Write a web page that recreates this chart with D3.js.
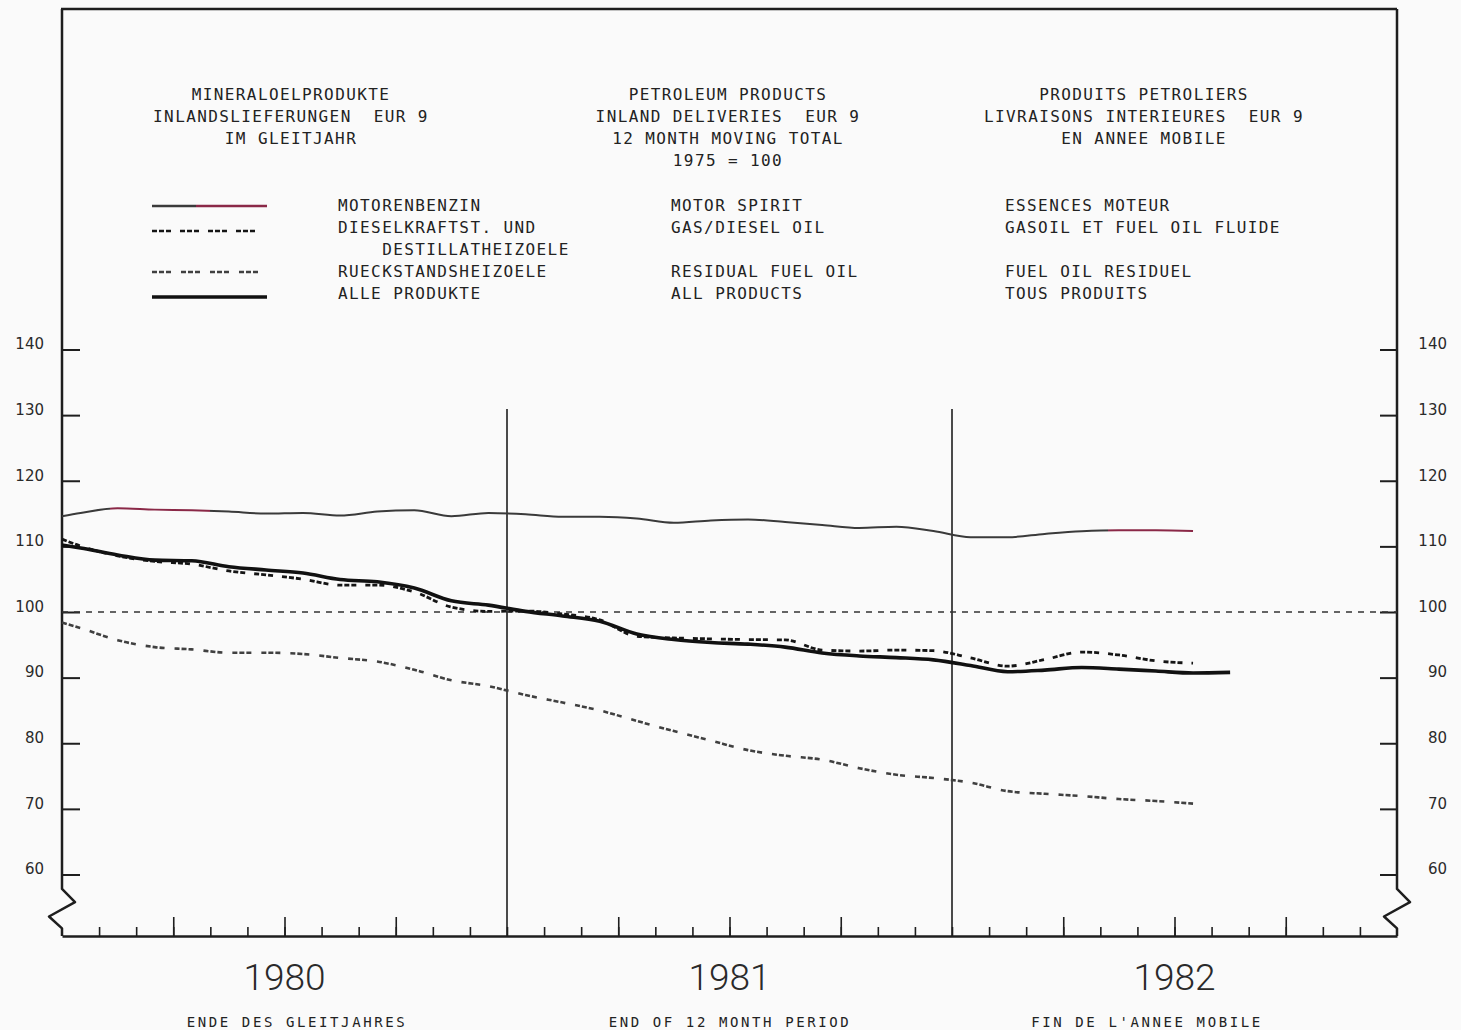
<!DOCTYPE html>
<html><head><meta charset="utf-8">
<script src="https://cdn.jsdelivr.net/npm/d3@7"></script>
<style>body{margin:0;background:#fafafa;}</style>
</head><body>
<svg id="c" width="1461" height="1030"></svg>
<script>
// ---- DATA (index 1975 = 100, 12 month moving totals, EUR 9) ----
// month positions: 0 = end of Dec 1979 (left axis); values read at mid-month after that
const monthPos = [0].concat(d3.range(0, 32).map(i => i + 0.5));
const motorSpirit = [114.6,115.1,115.8,115.6,115.5,115.3,115.0,115.1,114.7,115.3,115.5,114.6,115.1,114.9,114.5,114.5,114.25,113.6,113.95,114.1,113.7,113.25,112.8,113.0,112.35,111.4,111.4,111.9,112.3,112.45,112.45,112.35];
const gasDiesel   = [111.1,110.05,108.55,107.7,107.3,106.25,105.65,105.0,104.1,104.1,103.05,100.75,100.1,100.15,99.7,98.8,96.3,96.05,95.9,95.8,95.75,94.2,94.05,94.2,94.1,93.0,91.75,92.75,93.9,93.45,92.55,92.2];
const residual    = [98.4,97.55,95.7,94.65,94.3,93.8,93.8,93.6,93.0,92.45,91.2,89.6,88.7,87.35,86.2,85.0,83.4,81.85,80.4,78.95,78.1,77.5,76.2,75.2,74.7,74.0,72.7,72.3,71.95,71.5,71.2,70.8];
const allProducts = [110.2,109.75,108.7,107.9,107.8,106.9,106.4,105.95,104.95,104.6,103.65,101.7,101.05,100.1,99.4,98.6,96.65,95.8,95.35,95.1,94.65,93.75,93.3,93.05,92.7,91.85,90.9,91.15,91.55,91.3,91.0,90.7,90.8];

const yTicks = [60,70,80,90,100,110,120,130,140];
const years = ["1980","1981","1982"];
const periodLabels = ["ENDE DES GLEITJAHRES","END OF 12 MONTH PERIOD","FIN DE L'ANNEE MOBILE"];
const titleDE = ["MINERALOELPRODUKTE","INLANDSLIEFERUNGEN  EUR 9","IM GLEITJAHR"];
const titleEN = ["PETROLEUM PRODUCTS","INLAND DELIVERIES  EUR 9","12 MONTH MOVING TOTAL","1975 = 100"];
const titleFR = ["PRODUITS PETROLIERS","LIVRAISONS INTERIEURES  EUR 9","EN ANNEE MOBILE"];
const legendDE = ["MOTORENBENZIN","DIESELKRAFTST. UND","    DESTILLATHEIZOELE","RUECKSTANDSHEIZOELE","ALLE PRODUKTE"];
const legendEN = ["MOTOR SPIRIT","GAS/DIESEL OIL","","RESIDUAL FUEL OIL","ALL PRODUCTS"];
const legendFR = ["ESSENCES MOTEUR","GASOIL ET FUEL OIL FLUIDE","","FUEL OIL RESIDUEL","TOUS PRODUITS"];

// ---- LAYOUT ----
const svg = d3.select("#c");
const X0 = 62, X1 = 1397, AXY = 936, TOP = 9;
const x = d3.scaleLinear().domain([0, 36]).range([X0, X1]);
const y = d3.scaleLinear().domain([60, 140]).range([874.5, 349.5]);
const ink = "#1e1e1e";
const mono = "'DejaVu Sans Mono', monospace";

svg.append("rect").attr("width",1461).attr("height",1030).attr("fill","#fafafa");

// gradient for the red pen sections of motor spirit
const defs = svg.append("defs");
const g1 = defs.append("linearGradient").attr("id","msGrad").attr("gradientUnits","userSpaceOnUse")
  .attr("x1", x(0)).attr("x2", x(36)).attr("y1",0).attr("y2",0);
const red = "#8a2847", dk = "#3a3a3a";
[[0,dk],[1.3,dk],[1.3,red],[4,red],[4,dk],[28.2,dk],[28.2,red],[36,red]].forEach(([m,c]) =>
  g1.append("stop").attr("offset", (m/36)).attr("stop-color", c));
const g2 = defs.append("linearGradient").attr("id","lgGrad");
[[0,dk],[0.38,dk],[0.38,red],[1,red]].forEach(([o,c]) => g2.append("stop").attr("offset",o).attr("stop-color",c));

// frame top
svg.append("line").attr("x1",X0-1).attr("x2",X1).attr("y1",TOP).attr("y2",TOP)
  .attr("stroke",ink).attr("stroke-width",2.5);

// side axes with zigzag break
function sideAxis(xx){
  const pts = [[xx,TOP],[xx,y(57.8)],[xx+13,y(55.8)],[xx-13,y(53.6)],[xx,y(51.8)],[xx,AXY]];
  svg.append("path").attr("d", d3.line()(pts)).attr("fill","none")
    .attr("stroke",ink).attr("stroke-width",2.5).attr("stroke-linejoin","round");
}
sideAxis(X0); sideAxis(X1);

// left axis ticks + labels
const la = svg.append("g").attr("transform",`translate(${X0},0)`)
  .call(d3.axisLeft(y).tickValues(yTicks).tickSize(-18).tickPadding(18).tickFormat(d3.format("d")));
la.select(".domain").remove();
la.selectAll(".tick line").attr("stroke",ink).attr("stroke-width",2);
la.selectAll(".tick text").attr("font-family","'DejaVu Sans', sans-serif").attr("font-size",15)
  .attr("fill","#2a2a2a").attr("dy","-0.05em");

// right axis ticks + labels
const ra = svg.append("g").attr("transform",`translate(${X1},0)`)
  .call(d3.axisRight(y).tickValues(yTicks).tickSize(-17).tickPadding(50).tickFormat(d3.format("d")));
ra.select(".domain").remove();
ra.selectAll(".tick line").attr("stroke",ink).attr("stroke-width",2);
ra.selectAll(".tick text").attr("font-family","'DejaVu Sans', sans-serif").attr("font-size",15)
  .attr("fill","#2a2a2a").attr("text-anchor","end").attr("dy","-0.05em");

// x axis (monthly minor ticks, quarterly major ticks)
const xMinor = svg.append("g").attr("transform",`translate(0,${AXY})`)
  .call(d3.axisTop(x).tickValues(d3.range(1,36)).tickSizeInner(9).tickSizeOuter(0).tickFormat(""));
xMinor.select(".domain").attr("stroke",ink).attr("stroke-width",2.5);
xMinor.selectAll(".tick line").attr("stroke",ink).attr("stroke-width",1.6);
const xMajor = svg.append("g").attr("transform",`translate(0,${AXY})`)
  .call(d3.axisTop(x).tickValues([3,6,9,15,18,21,27,30,33]).tickSize(19).tickFormat(""));
xMajor.select(".domain").remove();
xMajor.selectAll(".tick line").attr("stroke",ink).attr("stroke-width",1.6);

// year dividers
svg.selectAll(".yr").data([12,24]).join("line")
  .attr("x1",d=>x(d)).attr("x2",d=>x(d)).attr("y1",409).attr("y2",AXY)
  .attr("stroke",ink).attr("stroke-width",1.6);

// 100 reference line
svg.append("line").attr("x1",X0).attr("x2",X1).attr("y1",y(100)).attr("y2",y(100))
  .attr("stroke","#333").attr("stroke-width",1.4).attr("stroke-dasharray","6,6");

// series
const line = d3.line().x((d,i)=>x(monthPos[i])).y(d=>y(d)).curve(d3.curveMonotoneX);
svg.append("path").datum(residual).attr("d",line).attr("fill","none")
  .attr("stroke","#404040").attr("stroke-width",2.6).attr("stroke-dasharray","5,2,5,2,5,10");
svg.append("path").datum(gasDiesel).attr("d",line).attr("fill","none")
  .attr("stroke","#151515").attr("stroke-width",2.8).attr("stroke-dasharray","5,2,5,2,5,9");
svg.append("path").datum(motorSpirit).attr("d",line).attr("fill","none")
  .attr("stroke","url(#msGrad)").attr("stroke-width",2);
svg.append("path").datum(allProducts).attr("d",line).attr("fill","none")
  .attr("stroke","#111").attr("stroke-width",3.6).attr("stroke-linejoin","round");

// titles
function block(lines, cx, y0, dy){
  svg.append("g").selectAll("text").data(lines).join("text")
    .attr("x",cx).attr("y",(d,i)=>y0+i*dy).attr("text-anchor","middle")
    .attr("font-family",mono).attr("font-size",16).attr("letter-spacing","1.4px")
    .attr("fill","#222").attr("dominant-baseline","central").style("white-space","pre").text(d=>d);
}
block(titleDE, 291, 94, 22);
block(titleEN, 728, 94, 22);
block(titleFR, 1144, 94, 22);

// legend texts
function lcol(lines, lx){
  svg.append("g").selectAll("text").data(lines).join("text")
    .attr("x",lx).attr("y",(d,i)=>205+i*22).attr("text-anchor","start")
    .attr("font-family",mono).attr("font-size",16).attr("letter-spacing","1.4px")
    .attr("fill","#222").attr("dominant-baseline","central").style("white-space","pre").text(d=>d);
}
lcol(legendDE, 338); lcol(legendEN, 671); lcol(legendFR, 1005);

// legend samples
const lg = [
  {yy:206, stroke:"url(#lgGrad)", w:2.4, dash:null, x2:267},
  {yy:231, stroke:"#151515", w:2.6, dash:"5,2,5,2,5,9", x2:262},
  {yy:272, stroke:"#404040", w:2.4, dash:"5,2,5,2,5,10", x2:264},
  {yy:297, stroke:"#111", w:3.4, dash:null, x2:267}
];
svg.selectAll(".lg").data(lg).join("line").attr("x1",152).attr("x2",d=>d.x2)
  .attr("y1",d=>d.yy).attr("y2",d=>d.yy+0.01).attr("stroke",d=>d.stroke).attr("stroke-width",d=>d.w)
  .attr("stroke-dasharray",d=>d.dash);

// year labels
svg.selectAll(".ylab").data(years).join("text")
  .attr("x",(d,i)=>x(i*12+6)).attr("y",977).attr("text-anchor","middle").attr("dominant-baseline","central")
  .attr("font-family","Roboto, sans-serif").attr("font-weight",300).attr("font-size",37)
  .attr("fill","#2a2a2a").text(d=>d);
svg.selectAll(".plab").data(periodLabels).join("text")
  .attr("x",(d,i)=>[297,730,1147][i]).attr("y",1022).attr("text-anchor","middle").attr("dominant-baseline","central")
  .attr("font-family",mono).attr("font-size",14).attr("letter-spacing","2.6px")
  .attr("fill","#222").text(d=>d);
</script>
</body></html>
